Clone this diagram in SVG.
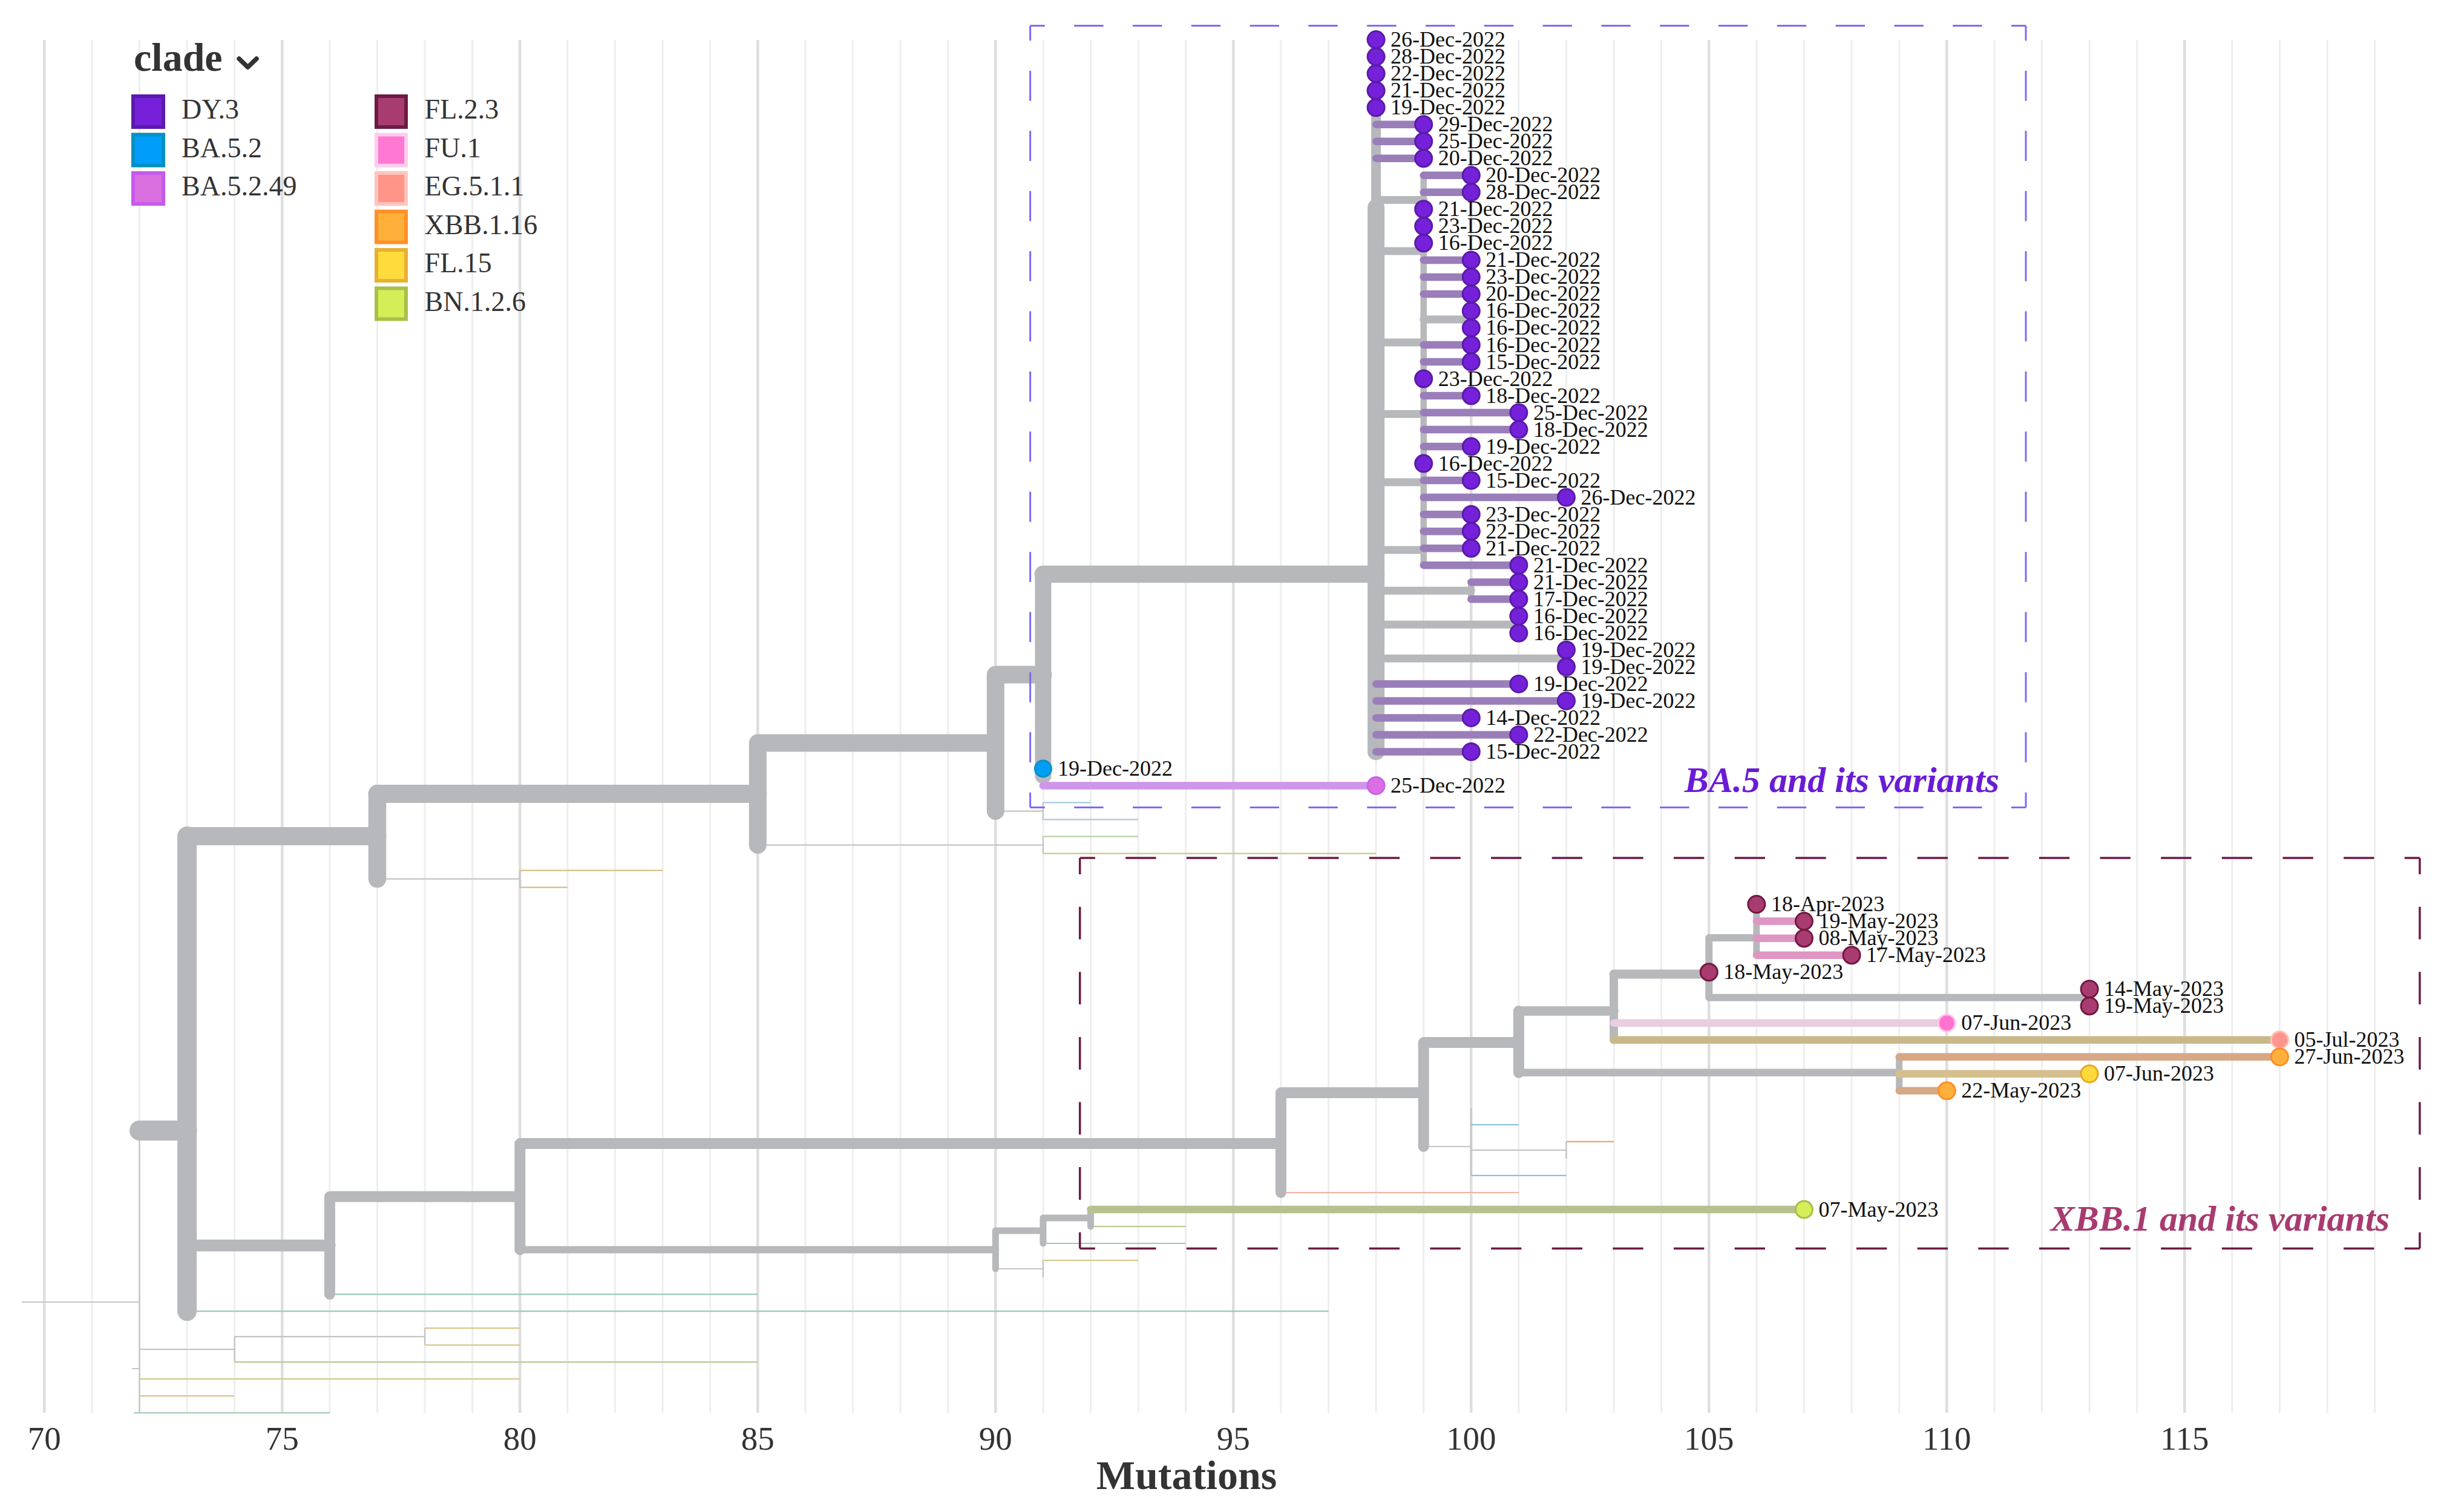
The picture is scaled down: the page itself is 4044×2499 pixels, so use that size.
<svg xmlns="http://www.w3.org/2000/svg" width="4044" height="2499" viewBox="0 0 4044 2499">
<style>
.grid-minor{stroke:#EEEEEE;stroke-width:3;fill:none}
.grid-major{stroke:#DEDEDE;stroke-width:4.5;fill:none}
.tick{font-family:"Liberation Serif","Times New Roman",serif;font-size:55px;fill:#333;text-anchor:middle}
.axis{font-family:"Liberation Serif","Times New Roman",serif;font-size:68px;font-weight:bold;fill:#333;text-anchor:middle}
.b{fill:none;stroke:#B7B8BB;stroke-linecap:round}
.t{fill:none;stroke-linecap:round;stroke-width:12.5}
.thin{fill:none;stroke-width:2.2}
.tg{stroke:#C4C4C6}
.lbl{font-family:"Liberation Serif","Times New Roman",serif;font-size:36px;fill:#111}
.leg{font-family:"Liberation Serif","Times New Roman",serif;font-size:46px;fill:#333}
.ttl{font-family:"Liberation Serif","Times New Roman",serif;font-size:66px;font-weight:bold;fill:#333}
.region{font-family:"Liberation Serif","Times New Roman",serif;font-size:60px;font-weight:bold;font-style:italic;text-anchor:end}
.dy{fill:#7521D9;stroke:#5A1AA8;stroke-width:3}
.ba52{fill:#009FF5;stroke:#0C8FC8;stroke-width:3}
.ba49{fill:#DB6FE3;stroke:#C665E8;stroke-width:3}
.fl23{fill:#A83C70;stroke:#70193F;stroke-width:3}
.fu1{fill:#FF72D0;stroke:#FFC8EC;stroke-width:3}
.eg{fill:#FF958C;stroke:#FFC0B8;stroke-width:3}
.xbb{fill:#FFB03A;stroke:#FF8C28;stroke-width:3}
.fl15{fill:#FFDA3A;stroke:#E6A828;stroke-width:3}
.bn{fill:#D6EE5A;stroke:#A8BE48;stroke-width:3}
</style>

<g id="grid">
<path class="grid-minor" d="M151.9,66V2335M230.5,66V2335M309.1,66V2335M387.7,66V2335M544.9,66V2335M623.5,66V2335M702.1,66V2335M780.7,66V2335M937.9,66V2335M1016.5,66V2335M1095.1,66V2335M1173.7,66V2335M1330.9,66V2335M1409.5,66V2335M1488.1,66V2335M1566.7,66V2335M1723.9,66V2335M1802.5,66V2335M1881.1,66V2335M1959.7,66V2335M2116.9,66V2335M2195.5,66V2335M2274.1,66V2335M2352.7,66V2335M2509.9,66V2335M2588.5,66V2335M2667.1,66V2335M2745.7,66V2335M2902.9,66V2335M2981.5,66V2335M3060.1,66V2335M3138.7,66V2335M3295.9,66V2335M3374.5,66V2335M3453.1,66V2335M3531.7,66V2335M3688.9,66V2335M3767.5,66V2335M3846.1,66V2335M3924.7,66V2335"/>
<path class="grid-major" d="M73.3,66V2335M466.3,66V2335M859.3,66V2335M1252.3,66V2335M1645.3,66V2335M2038.3,66V2335M2431.3,66V2335M2824.3,66V2335M3217.3,66V2335M3610.3,66V2335"/>
</g>

<g id="axis">
<text class="tick" x="73.3" y="2396">70</text>
<text class="tick" x="466.3" y="2396">75</text>
<text class="tick" x="859.3" y="2396">80</text>
<text class="tick" x="1252.3" y="2396">85</text>
<text class="tick" x="1645.3" y="2396">90</text>
<text class="tick" x="2038.3" y="2396">95</text>
<text class="tick" x="2431.3" y="2396">100</text>
<text class="tick" x="2824.3" y="2396">105</text>
<text class="tick" x="3217.3" y="2396">110</text>
<text class="tick" x="3610.3" y="2396">115</text>
<text class="axis" x="1961" y="2461">Mutations</text>
</g>

<g id="legend">
<text class="ttl" x="221" y="117">clade</text>
<path d="M395,97 L409.5,111 L424,97" fill="none" stroke="#333" stroke-width="7.5" stroke-linecap="round" stroke-linejoin="round"/>
<rect x="220" y="159" width="50" height="51" fill="#7620DA" stroke="#5B1AB0" stroke-width="6"/>
<text class="leg" x="300" y="196">DY.3</text>
<rect x="220" y="222.5" width="50" height="51" fill="#009EFA" stroke="#0490C4" stroke-width="6"/>
<text class="leg" x="300" y="259.5">BA.5.2</text>
<rect x="220" y="286" width="50" height="51" fill="#DA70E0" stroke="#C65AEA" stroke-width="6"/>
<text class="leg" x="300" y="323">BA.5.2.49</text>
<rect x="622" y="159" width="49" height="51" fill="#A83C70" stroke="#6E1A44" stroke-width="6"/>
<text class="leg" x="701.6" y="196">FL.2.3</text>
<rect x="622" y="222.5" width="49" height="51" fill="#FF78D2" stroke="#FFCCEE" stroke-width="6"/>
<text class="leg" x="701.6" y="259.5">FU.1</text>
<rect x="622" y="286" width="49" height="51" fill="#FF9488" stroke="#FFC4BC" stroke-width="6"/>
<text class="leg" x="701.6" y="323">EG.5.1.1</text>
<rect x="622" y="349.5" width="49" height="51" fill="#FFB03A" stroke="#FF9028" stroke-width="6"/>
<text class="leg" x="701.6" y="386.5">XBB.1.16</text>
<rect x="622" y="413" width="49" height="51" fill="#FFDC3C" stroke="#E8B030" stroke-width="6"/>
<text class="leg" x="701.6" y="450">FL.15</text>
<rect x="622" y="476.5" width="49" height="51" fill="#D4EE58" stroke="#A8C048" stroke-width="6"/>
<text class="leg" x="701.6" y="513.5">BN.1.2.6</text>
</g>

<g id="connectors">
<!-- thin branches -->
<g class="thin">
<path class="tg" d="M36,2152H230.5M230.5,1868.5V2335.2M218,2262H230.5M230.5,2230.2H387.7M387.7,2209.1V2251.2M387.7,2209.1H702.1M702.1,2195.1V2223.1"/>
<path stroke="#D6C88A" d="M702.1,2195.1H859.3M702.1,2223.1H859.3M230.5,2279.2H859.3M230.5,2307.2H387.7"/>
<path stroke="#B4CC98" d="M387.7,2251.2H1252.3"/>
<path stroke="#A8CCB4" d="M221,2335.2H544.9"/>
<path stroke="#98CCBC" d="M309.1,2167.1H2195.5M544.9,2139.1H1252.3M1723.9,2055H1959.7"/>
<path class="tg" d="M1645.3,2097H1723.9M1723.9,2083V2111.1"/>
<path stroke="#D6C88A" d="M1723.9,2083H1881.1"/>
<path stroke="#B4C890" d="M1802.5,2027H1959.7"/>
<path stroke="#F4B0A0" d="M2116.9,1971H2509.9"/>
<path class="tg" d="M2352.7,1895H2431.3M2431.3,1830.9V1942.9M2431.3,1900.9H2588.5M2588.5,1886.9V1914.9"/>
<path stroke="#8EC0D8" d="M2431.3,1858.9H2509.9M2431.3,1942.9H2588.5"/>
<path stroke="#F2A27E" d="M2588.5,1886.9H2667.1"/>
<path class="tg" d="M1645.3,1340.6H1723.9M1723.9,1326.5V1354.5M1252.3,1396.6H1723.9M1723.9,1382.5V1410.6M623.5,1452.6H859.3M859.3,1438.6V1466.6"/>
<path stroke="#9CC4D6" d="M1723.9,1326.5H1802.5M1723.9,1354.5H1881.1"/>
<path stroke="#B2CC9C" d="M1723.9,1382.5H1881.1"/>
<path stroke="#C8C890" d="M1723.9,1410.6H2274.1"/>
<path stroke="#D6C080" d="M859.3,1438.6H1095.1M859.3,1466.6H937.9"/>
</g>

<!-- backbone -->
<path class="b" stroke-width="33" d="M230.5,1868.5H309.1"/>
<path class="b" stroke-width="32" d="M309.1,1382V2167.1"/>
<path class="b" stroke-width="30" d="M309.1,1382H623.5"/>
<path class="b" stroke-width="29.5" d="M623.5,1312V1452.6"/>
<path class="b" stroke-width="30" d="M623.5,1312H1252.3"/>
<path class="b" stroke-width="29" d="M1252.3,1228V1396.6M1252.3,1228H1645.3M1645.3,1115V1340.6M1645.3,1115H1723.9"/>
<path class="b" stroke-width="27" d="M1723.9,949V1282"/>
<path class="b" stroke-width="28.6" d="M1723.9,949H2274.1"/>
<path class="b" stroke-width="28" d="M2274.1,343V1242.4"/>
<path class="b" stroke-width="16" d="M2274.1,65.6V343"/>

<!-- BA.5 internal -->
<path class="b" stroke-width="13" d="M2274.1,330.4H2352.7M2274.1,415H2352.7M2274.1,566H2352.7M2274.1,684.3H2352.7M2274.1,796.9H2352.7M2274.1,909H2352.7M2352.7,527.9H2431.3M2274.1,976.3H2431.3M2274.1,1032.3H2509.9M2274.1,1088.3H2588.5"/>
<path class="b" stroke-width="10.5" d="M2352.7,289.8V934.2M2431.3,513.9V541.9M2431.3,962.2V990.3M2509.9,1018.3V1046.3M2588.5,1074.3V1102.3"/>
<path class="t" stroke="#9A7EBA" d="M2274.1,205.7H2352.7M2274.1,233.7H2352.7M2274.1,261.7H2352.7M2352.7,289.8H2431.3M2352.7,317.8H2431.3M2352.7,429.9H2431.3M2352.7,457.9H2431.3M2352.7,485.9H2431.3M2352.7,570H2431.3M2352.7,598H2431.3M2352.7,654H2431.3M2352.7,682H2509.9M2352.7,710.1H2509.9M2352.7,738.1H2431.3M2352.7,794.1H2431.3M2352.7,822.1H2588.5M2352.7,850.2H2431.3M2352.7,878.2H2431.3M2352.7,906.2H2431.3M2352.7,934.2H2509.9M2431.3,962.2H2509.9M2431.3,990.3H2509.9M2274.1,1130.4H2509.9M2274.1,1158.4H2588.5M2274.1,1186.4H2431.3M2274.1,1214.4H2509.9M2274.1,1242.4H2431.3"/>
<path class="t" stroke="#CF95EA" d="M1723.9,1298.5H2274.1"/>

<!-- XBB side -->
<path class="b" stroke-width="19.5" d="M309.1,2058.4H544.9"/>
<path class="b" stroke-width="18" d="M544.9,1977.8V2139.1M544.9,1977.8H859.3M859.3,1890V2065.5M859.3,1890H2116.9M2116.9,1806V1971M2116.9,1806H2352.7M2352.7,1723V1895M2352.7,1723H2509.9M2509.9,1671V1772.8"/>
<path class="b" stroke-width="15.5" d="M2509.9,1671H2667.1"/>
<path class="b" stroke-width="14" d="M2667.1,1610V1718.8"/>
<path class="b" stroke-width="15" d="M2667.1,1610H2824.3"/>
<path class="b" stroke-width="12.5" d="M2509.9,1772.8H3138.7"/>
<path class="b" stroke-width="12" d="M2824.3,1550V1648.7M2824.3,1550H2902.9M2824.3,1648.7H3453.1M859.3,2065.5H1645.3"/>
<path class="b" stroke-width="11" d="M2902.9,1494.6V1578.7M3453.1,1634.7V1662.7M3138.7,1746.8V1802.8M1645.3,2034V2097M1645.3,2034H1723.9M1723.9,2013V2055M1723.9,2013H1802.5M1802.5,1999V2027"/>
<path class="t" stroke="#E096C2" stroke-width="10.5" d="M2902.9,1522.6H2981.5M2902.9,1550.7H2981.5M2902.9,1578.7H3060.1"/>
<path class="t" stroke="#E8CEDE" stroke-width="11" d="M2667.1,1690.8H3217.3"/>
<path class="t" stroke="#C9B98A" stroke-width="11" d="M2667.1,1718.8H3767.5"/>
<path class="t" stroke="#D6A886" stroke-width="11" d="M3138.7,1746.8H3767.5M3138.7,1802.8H3217.3"/>
<path class="t" stroke="#D6BF8E" stroke-width="11" d="M3138.7,1774.8H3453.1"/>
<path class="t" stroke="#B6C18F" stroke-width="11.5" d="M1802.5,1999H2981.5"/>
</g>

<g id="region-ba5">
<path d="M1702.6,42.4H3348M1702.6,1334.4H3348" fill="none" stroke="#7B6CF5" stroke-width="3" stroke-dasharray="48.4 48.4" stroke-dashoffset="24.2"/>
<path d="M1702.6,42.4V1334.4M3348,42.4V1334.4" fill="none" stroke="#7B6CF5" stroke-width="3" stroke-dasharray="49.7 49.7" stroke-dashoffset="24.85"/>
<text class="region" x="3304" y="1309" fill="#6A1BD6">BA.5 and its variants</text>
</g>
<g id="region-xbb">
<path d="M1784.7,1418H3999M1784.7,2063.4H3999" fill="none" stroke="#6D1A45" stroke-width="3.5" stroke-dasharray="50.3 50.35" stroke-dashoffset="25.15"/>
<path d="M1784.7,1418V2063.4M3999,1418V2063.4" fill="none" stroke="#6D1A45" stroke-width="3.5" stroke-dasharray="53.8 53.8" stroke-dashoffset="26.9"/>
<text class="region" x="3949" y="2034" fill="#A83B70">XBB.1 and its variants</text>
</g>

<g id="tips">
<g id="tip0"><circle class="dy" cx="2274.1" cy="65.6" r="14"/><text class="lbl" x="2298" y="77.1">26-Dec-2022</text></g>
<g id="tip1"><circle class="dy" cx="2274.1" cy="93.6" r="14"/><text class="lbl" x="2298" y="105.1">28-Dec-2022</text></g>
<g id="tip2"><circle class="dy" cx="2274.1" cy="121.6" r="14"/><text class="lbl" x="2298" y="133.1">22-Dec-2022</text></g>
<g id="tip3"><circle class="dy" cx="2274.1" cy="149.7" r="14"/><text class="lbl" x="2298" y="161.2">21-Dec-2022</text></g>
<g id="tip4"><circle class="dy" cx="2274.1" cy="177.7" r="14"/><text class="lbl" x="2298" y="189.2">19-Dec-2022</text></g>
<g id="tip5"><circle class="dy" cx="2352.7" cy="205.7" r="14"/><text class="lbl" x="2376.7" y="217.2">29-Dec-2022</text></g>
<g id="tip6"><circle class="dy" cx="2352.7" cy="233.7" r="14"/><text class="lbl" x="2376.7" y="245.2">25-Dec-2022</text></g>
<g id="tip7"><circle class="dy" cx="2352.7" cy="261.7" r="14"/><text class="lbl" x="2376.7" y="273.2">20-Dec-2022</text></g>
<g id="tip8"><circle class="dy" cx="2431.3" cy="289.8" r="14"/><text class="lbl" x="2455.3" y="301.3">20-Dec-2022</text></g>
<g id="tip9"><circle class="dy" cx="2431.3" cy="317.8" r="14"/><text class="lbl" x="2455.3" y="329.3">28-Dec-2022</text></g>
<g id="tip10"><circle class="dy" cx="2352.7" cy="345.8" r="14"/><text class="lbl" x="2376.7" y="357.3">21-Dec-2022</text></g>
<g id="tip11"><circle class="dy" cx="2352.7" cy="373.8" r="14"/><text class="lbl" x="2376.7" y="385.3">23-Dec-2022</text></g>
<g id="tip12"><circle class="dy" cx="2352.7" cy="401.8" r="14"/><text class="lbl" x="2376.7" y="413.3">16-Dec-2022</text></g>
<g id="tip13"><circle class="dy" cx="2431.3" cy="429.9" r="14"/><text class="lbl" x="2455.3" y="441.4">21-Dec-2022</text></g>
<g id="tip14"><circle class="dy" cx="2431.3" cy="457.9" r="14"/><text class="lbl" x="2455.3" y="469.4">23-Dec-2022</text></g>
<g id="tip15"><circle class="dy" cx="2431.3" cy="485.9" r="14"/><text class="lbl" x="2455.3" y="497.4">20-Dec-2022</text></g>
<g id="tip16"><circle class="dy" cx="2431.3" cy="513.9" r="14"/><text class="lbl" x="2455.3" y="525.4">16-Dec-2022</text></g>
<g id="tip17"><circle class="dy" cx="2431.3" cy="541.9" r="14"/><text class="lbl" x="2455.3" y="553.4">16-Dec-2022</text></g>
<g id="tip18"><circle class="dy" cx="2431.3" cy="570" r="14"/><text class="lbl" x="2455.3" y="581.5">16-Dec-2022</text></g>
<g id="tip19"><circle class="dy" cx="2431.3" cy="598" r="14"/><text class="lbl" x="2455.3" y="609.5">15-Dec-2022</text></g>
<g id="tip20"><circle class="dy" cx="2352.7" cy="626" r="14"/><text class="lbl" x="2376.7" y="637.5">23-Dec-2022</text></g>
<g id="tip21"><circle class="dy" cx="2431.3" cy="654" r="14"/><text class="lbl" x="2455.3" y="665.5">18-Dec-2022</text></g>
<g id="tip22"><circle class="dy" cx="2509.9" cy="682" r="14"/><text class="lbl" x="2533.9" y="693.5">25-Dec-2022</text></g>
<g id="tip23"><circle class="dy" cx="2509.9" cy="710.1" r="14"/><text class="lbl" x="2533.9" y="721.6">18-Dec-2022</text></g>
<g id="tip24"><circle class="dy" cx="2431.3" cy="738.1" r="14"/><text class="lbl" x="2455.3" y="749.6">19-Dec-2022</text></g>
<g id="tip25"><circle class="dy" cx="2352.7" cy="766.1" r="14"/><text class="lbl" x="2376.7" y="777.6">16-Dec-2022</text></g>
<g id="tip26"><circle class="dy" cx="2431.3" cy="794.1" r="14"/><text class="lbl" x="2455.3" y="805.6">15-Dec-2022</text></g>
<g id="tip27"><circle class="dy" cx="2588.5" cy="822.1" r="14"/><text class="lbl" x="2612.5" y="833.6">26-Dec-2022</text></g>
<g id="tip28"><circle class="dy" cx="2431.3" cy="850.2" r="14"/><text class="lbl" x="2455.3" y="861.7">23-Dec-2022</text></g>
<g id="tip29"><circle class="dy" cx="2431.3" cy="878.2" r="14"/><text class="lbl" x="2455.3" y="889.7">22-Dec-2022</text></g>
<g id="tip30"><circle class="dy" cx="2431.3" cy="906.2" r="14"/><text class="lbl" x="2455.3" y="917.7">21-Dec-2022</text></g>
<g id="tip31"><circle class="dy" cx="2509.9" cy="934.2" r="14"/><text class="lbl" x="2533.9" y="945.7">21-Dec-2022</text></g>
<g id="tip32"><circle class="dy" cx="2509.9" cy="962.2" r="14"/><text class="lbl" x="2533.9" y="973.7">21-Dec-2022</text></g>
<g id="tip33"><circle class="dy" cx="2509.9" cy="990.3" r="14"/><text class="lbl" x="2533.9" y="1001.8">17-Dec-2022</text></g>
<g id="tip34"><circle class="dy" cx="2509.9" cy="1018.3" r="14"/><text class="lbl" x="2533.9" y="1029.8">16-Dec-2022</text></g>
<g id="tip35"><circle class="dy" cx="2509.9" cy="1046.3" r="14"/><text class="lbl" x="2533.9" y="1057.8">16-Dec-2022</text></g>
<g id="tip36"><circle class="dy" cx="2588.5" cy="1074.3" r="14"/><text class="lbl" x="2612.5" y="1085.8">19-Dec-2022</text></g>
<g id="tip37"><circle class="dy" cx="2588.5" cy="1102.3" r="14"/><text class="lbl" x="2612.5" y="1113.8">19-Dec-2022</text></g>
<g id="tip38"><circle class="dy" cx="2509.9" cy="1130.4" r="14"/><text class="lbl" x="2533.9" y="1141.9">19-Dec-2022</text></g>
<g id="tip39"><circle class="dy" cx="2588.5" cy="1158.4" r="14"/><text class="lbl" x="2612.5" y="1169.9">19-Dec-2022</text></g>
<g id="tip40"><circle class="dy" cx="2431.3" cy="1186.4" r="14"/><text class="lbl" x="2455.3" y="1197.9">14-Dec-2022</text></g>
<g id="tip41"><circle class="dy" cx="2509.9" cy="1214.4" r="14"/><text class="lbl" x="2533.9" y="1225.9">22-Dec-2022</text></g>
<g id="tip42"><circle class="dy" cx="2431.3" cy="1242.4" r="14"/><text class="lbl" x="2455.3" y="1253.9">15-Dec-2022</text></g>
<g id="tip43"><circle class="ba52" cx="1723.9" cy="1270.5" r="13.5"/><text class="lbl" x="1748" y="1282">19-Dec-2022</text></g>
<g id="tip44"><circle class="ba49" cx="2274.1" cy="1298.5" r="14"/><text class="lbl" x="2298" y="1310">25-Dec-2022</text></g>
<g id="tip51"><circle class="fl23" cx="2902.9" cy="1494.6" r="14"/><text class="lbl" x="2927" y="1506.1">18-Apr-2023</text></g>
<g id="tip52"><circle class="fl23" cx="2981.5" cy="1522.6" r="14"/><text class="lbl" x="3005.5" y="1534.1">19-May-2023</text></g>
<g id="tip53"><circle class="fl23" cx="2981.5" cy="1550.7" r="14"/><text class="lbl" x="3005.5" y="1562.2">08-May-2023</text></g>
<g id="tip54"><circle class="fl23" cx="3060.1" cy="1578.7" r="14"/><text class="lbl" x="3084.1" y="1590.2">17-May-2023</text></g>
<g id="tip55"><circle class="fl23" cx="2824.3" cy="1606.7" r="14"/><text class="lbl" x="2848.3" y="1618.2">18-May-2023</text></g>
<g id="tip56"><circle class="fl23" cx="3453.1" cy="1634.7" r="14"/><text class="lbl" x="3477.1" y="1646.2">14-May-2023</text></g>
<g id="tip57"><circle class="fl23" cx="3453.1" cy="1662.7" r="14"/><text class="lbl" x="3477.1" y="1674.2">19-May-2023</text></g>
<g id="tip58"><circle class="fu1" cx="3217.3" cy="1690.8" r="14"/><text class="lbl" x="3241.3" y="1702.3">07-Jun-2023</text></g>
<g id="tip59"><circle class="eg" cx="3767.5" cy="1718.8" r="14"/><text class="lbl" x="3791.5" y="1730.3">05-Jul-2023</text></g>
<g id="tip60"><circle class="xbb" cx="3767.5" cy="1746.8" r="14"/><text class="lbl" x="3791.5" y="1758.3">27-Jun-2023</text></g>
<g id="tip61"><circle class="fl15" cx="3453.1" cy="1774.8" r="14"/><text class="lbl" x="3477.1" y="1786.3">07-Jun-2023</text></g>
<g id="tip62"><circle class="xbb" cx="3217.3" cy="1802.8" r="14"/><text class="lbl" x="3241.3" y="1814.3">22-May-2023</text></g>
<g id="tip69"><circle class="bn" cx="2981.5" cy="1999" r="14"/><text class="lbl" x="3005.5" y="2010.5">07-May-2023</text></g>
</g>
</svg>
